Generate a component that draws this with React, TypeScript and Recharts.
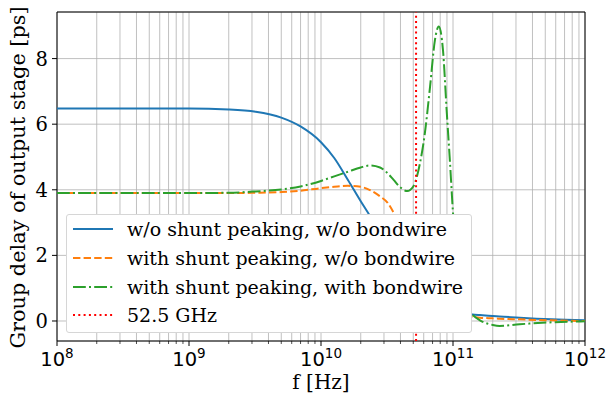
import React from 'react';
import { LineChart, Line, XAxis, YAxis, CartesianGrid, ReferenceLine, ReferenceArea, Legend } from 'recharts';

// frequency grid in Hz (log spaced, denser around the resonance)
const freqs = [
  1e8, 3.2e8, 1e9, 2e9, 3.2e9, 5e9, 7e9, 1e10, 1.26e10, 1.6e10, 2e10, 2.35e10,
  2.8e10, 3.2e10, 3.55e10, 4e10, 4.5e10, 5e10, 5.6e10, 6.1e10, 6.7e10, 7.3e10,
  7.8e10, 8.4e10, 8.95e10, 9.5e10, 1e11, 1.12e11, 1.26e11, 1.4e11, 1.6e11, 2e11,
  2.25e11, 3.2e11, 5.6e11, 1e12,
];

// group delay [ps]
const noPeakNoBond = [
  6.48, 6.48, 6.48, 6.45, 6.38, 6.2, 5.93, 5.45, 4.97, 4.3, 3.65, 3.2,
  2.65, 2.2, 1.85, 1.5, 1.2, 0.98, 0.8, 0.7, 0.6, 0.52,
  0.47, 0.42, 0.37, 0.34, 0.31, 0.26, 0.22, 0.2, 0.18, 0.15,
  0.14, 0.1, 0.05, 0.02,
];
const peakNoBond = [
  3.9, 3.9, 3.9, 3.9, 3.91, 3.93, 3.97, 4.05, 4.09, 4.12, 4.09, 3.99,
  3.8, 3.6, 3.3, 2.85, 2.4, 1.95, 1.5, 1.2, 0.95, 0.78,
  0.65, 0.53, 0.45, 0.38, 0.32, 0.24, 0.17, 0.13, 0.1, 0.08,
  0.07, 0.05, 0.02, 0.0,
];
const peakWithBond = [
  3.9, 3.9, 3.9, 3.91, 3.95, 4.01, 4.1, 4.27, 4.41, 4.55, 4.68, 4.74,
  4.68, 4.5, 4.3, 4.07, 3.96, 4.1, 4.78, 5.68, 7.14, 8.57,
  8.98, 8.25, 6.43, 4.8, 3.3, 1.3, 0.45, 0.2, 0.02, -0.12,
  -0.15, -0.1, -0.04, -0.01,
];

const markerFreq = 5.25e10;
const seriesNames = [
  'w/o shunt peaking, w/o bondwire',
  'with shunt peaking, w/o bondwire',
  'with shunt peaking, with bondwire',
  '52.5 GHz',
];

const majorTicks = [1e8, 1e9, 1e10, 1e11, 1e12];
const minorSteps = [2, 3, 4, 5, 6, 7, 8, 9];
const xTicks = [
  ...majorTicks,
  ...majorTicks.slice(0, -1).flatMap((d) => minorSteps.map((m) => m * d)),
].sort((a, b) => a - b);
const yTicks = [0, 2, 4, 6, 8];

const data = freqs.map((f, i) => ({
  f,
  a: noPeakNoBond[i],
  b: peakNoBond[i],
  c: peakWithBond[i],
}));

const serif = "'DejaVu Serif', 'Liberation Serif', serif";
const COLORS = ['#1f77b4', '#ff7f0e', '#2ca02c', '#ff0000'];
const DASHES = [undefined, '7.4 3.2', '12.8 3.2 2 3.2', '2 3.3'];

const XTick = (props: any) => {
  const { x, y, payload } = props;
  const lg = Math.log10(payload.value);
  const exp = Math.round(lg);
  const major = Math.abs(lg - exp) < 1e-6;
  return (
    <g>
      <line x1={x} x2={x} y1={y} y2={y + (major ? 5 : 3)} stroke="#000" strokeWidth={major ? 1 : 0.7} />
      {major && (
        <text x={x} y={y + 25} textAnchor="middle" fontFamily="'DejaVu Sans', sans-serif" fontSize={19.5} fill="#000">
          10<tspan dy={-8} fontSize={13.5}>{exp}</tspan>
        </text>
      )}
    </g>
  );
};

const YTick = (props: any) => {
  const { x, y, payload } = props;
  return (
    <g>
      <line x1={x - 5} x2={x} y1={y} y2={y} stroke="#000" />
      <text x={x - 9} y={y} dy="0.36em" textAnchor="end" fontFamily={serif} fontSize={19.5} fill="#000">
        {payload.value}
      </text>
    </g>
  );
};

const YLabel = (props: any) => {
  const { viewBox } = props;
  const cy = viewBox.y + viewBox.height / 2 + 1;
  return (
    <text
      x={25}
      y={cy}
      transform={`rotate(-90, 25, ${cy})`}
      textAnchor="middle"
      fontFamily={serif}
      fontSize={20.8}
      fill="#000"
    >
      Group delay of output stage [ps]
    </text>
  );
};

const XLabel = (props: any) => {
  const { viewBox } = props;
  return (
    <text x={viewBox.x + viewBox.width / 2} y={389} textAnchor="middle" fontFamily={serif} fontSize={20} fill="#000">
      f [Hz]
    </text>
  );
};

const LegendBox = () => (
  <div
    style={{
      background: '#fff',
      border: '1px solid #d6d6d6',
      borderRadius: 3,
      padding: '0 8px 2px 6px',
      fontFamily: serif,
      fontSize: 19,
      color: '#000',
    }}
  >
    {seriesNames.map((name, i) => (
      <div key={name} style={{ display: 'flex', alignItems: 'center', height: 28.7, whiteSpace: 'nowrap' }}>
        <svg width={40} height={10} style={{ marginRight: 14 }}>
          <line x1={0} x2={40} y1={5} y2={5} stroke={COLORS[i]} strokeWidth={2} strokeDasharray={DASHES[i]} />
        </svg>
        <span>{name}</span>
      </div>
    ))}
  </div>
);

export default function App() {
  return (
    <div style={{ position: 'absolute', left: 0, top: 0, width: 609, height: 400, overflow: 'hidden', background: '#fff' }}>
      <LineChart width={609} height={400} data={data} margin={{ top: 12, right: 24, left: 0, bottom: 0 }}>
        <CartesianGrid stroke="#b0b0b0" strokeWidth={0.8} />
        <XAxis
          dataKey="f"
          type="number"
          scale="log"
          domain={[1e8, 1e12]}
          ticks={xTicks}
          interval={0}
          height={59}
          tickSize={0}
          tickMargin={0}
          tickLine={false}
          axisLine={false}
          tick={<XTick />}
          allowDataOverflow
          label={<XLabel />}
        />
        <YAxis
          type="number"
          domain={[-0.61, 9.42]}
          ticks={yTicks}
          width={57}
          tickSize={0}
          tickMargin={0}
          tickLine={false}
          axisLine={false}
          tick={<YTick />}
          allowDataOverflow
          label={<YLabel />}
        />
        <ReferenceArea x1={1e8} x2={1e12} y1={-0.61} y2={9.42} fill="none" stroke="#000" strokeWidth={1} ifOverflow="visible" />
        <Line dataKey="a" type="monotone" stroke={COLORS[0]} strokeWidth={2} dot={false} isAnimationActive={false} />
        <Line dataKey="b" type="monotone" stroke={COLORS[1]} strokeWidth={2} strokeDasharray={DASHES[1]} dot={false} isAnimationActive={false} />
        <Line dataKey="c" type="monotone" stroke={COLORS[2]} strokeWidth={2} strokeDasharray={DASHES[2]} dot={false} isAnimationActive={false} />
        <ReferenceLine x={markerFreq} stroke={COLORS[3]} strokeWidth={2} strokeDasharray={DASHES[3]} />
        <Legend
          layout="vertical"
          align="center"
          verticalAlign="middle"
          content={<LegendBox />}
          wrapperStyle={{ left: 66, top: 214, width: 'auto' }}
        />
      </LineChart>
    </div>
  );
}
